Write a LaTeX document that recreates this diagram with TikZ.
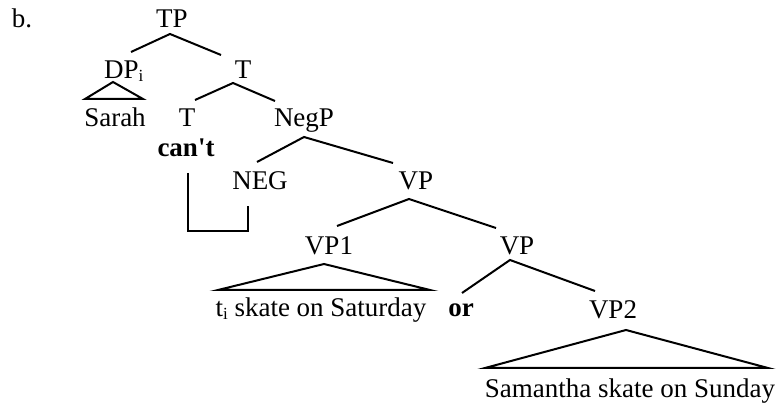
\documentclass[tikz,border=0pt]{standalone}
\usepackage{fontspec}
\setmainfont{Liberation Serif}
\newcommand{\subi}{\raisebox{-3pt}{\fontsize{17}{17}\selectfont i}}
\begin{document}
\begin{tikzpicture}[x=1pt,y=1pt,
  lbl/.style={inner sep=0pt, anchor=base, font=\fontsize{27}{31}\selectfont},
  edge/.style={line width=2pt, line join=miter}]
\useasboundingbox (0,0) rectangle (781,406);
% labels
\node[lbl] (b) at (22,378) {b.};
\node[lbl] (TP) at (172,378) {TP};
\node[lbl, anchor=base west] (DP) at (104,327) {DP\subi};
\node[lbl] (Tbar) at (243,327) {T};
\node[lbl] (Sarah) at (115,279) {Sarah};
\node[lbl] (T) at (187,279) {T};
\node[lbl] (NegP) at (304,279) {NegP};
\node[lbl] (cant) at (186,249) {\bfseries can\textquotesingle t};
\node[lbl] (NEG) at (260,216) {NEG};
\node[lbl] (VPa) at (416,216) {VP};
\node[lbl] (VP1) at (329,151) {VP1};
\node[lbl] (VPb) at (517,151) {VP};
\node[lbl] (sat) at (321,89) {t\subi\ skate on Saturday};
\node[lbl] (or) at (461,89) {\bfseries or};
\node[lbl] (VP2) at (613,87) {VP2};
\node[lbl] (sam) at (630,8) {Samantha skate on Sunday};
% connector end points
\coordinate (TPs) at (170,372);
\coordinate (DPn) at (131,354);
\coordinate (Tbarn) at (221,351);
\coordinate (DPs) at (113,324);
\coordinate (SarahL) at (85,307);
\coordinate (SarahR) at (143,307);
\coordinate (Tbars) at (233,323);
\coordinate (Tn) at (195,306);
\coordinate (NegPn) at (275,305);
\coordinate (NegPs) at (304,269);
\coordinate (NEGn) at (257,244);
\coordinate (VPan) at (393,243);
\coordinate (VPas) at (409,207);
\coordinate (VP1n) at (337,180);
\coordinate (VPbn) at (496,178);
\coordinate (VP1s) at (324,142);
\coordinate (satL) at (218,116);
\coordinate (satR) at (430,116);
\coordinate (VPbs) at (510,146);
\coordinate (orn) at (462,113);
\coordinate (VP2n) at (595,115);
\coordinate (VP2s) at (626,76);
\coordinate (samL) at (485,38);
\coordinate (samR) at (768,38);
\coordinate (cants) at (188,233);
\coordinate (m1) at (188,175);
\coordinate (m2) at (248,175);
\coordinate (NEGs) at (248,200);
% branches
\draw[edge] (DPn) -- (TPs) -- (Tbarn);
\draw[edge] (DPs) -- (SarahL) -- (SarahR) -- cycle;
\draw[edge] (Tn) -- (Tbars) -- (NegPn);
\draw[edge] (NEGn) -- (NegPs) -- (VPan);
\draw[edge] (VP1n) -- (VPas) -- (VPbn);
\draw[edge] (VP1s) -- (satL) -- (satR) -- cycle;
\draw[edge] (orn) -- (VPbs) -- (VP2n);
\draw[edge] (VP2s) -- (samL) -- (samR) -- cycle;
\draw[edge] (cants) -- (m1) -- (m2) -- (NEGs);
\end{tikzpicture}
\end{document}
